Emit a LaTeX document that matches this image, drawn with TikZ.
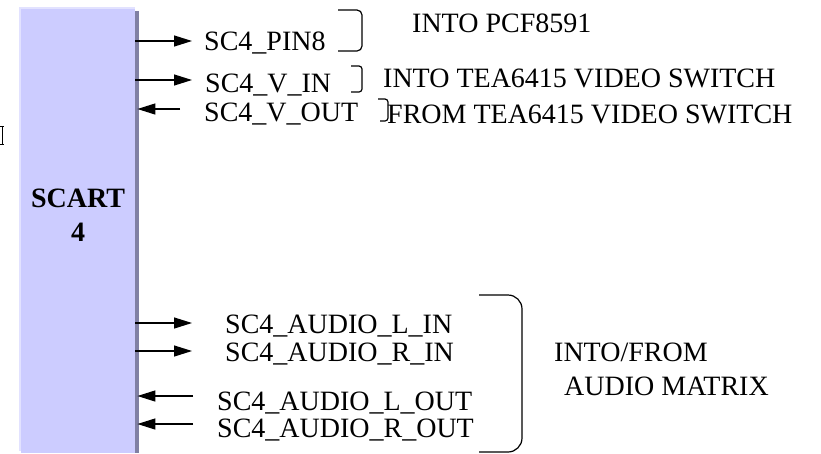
\documentclass[tikz,border=0pt]{standalone}
\usepackage{fontspec}
\setmainfont{Liberation Serif}
\usetikzlibrary{arrows.meta}
\definecolor{boxfill}{RGB}{204,204,255}
\definecolor{boxlight}{RGB}{226,226,255}
\definecolor{boxshade}{RGB}{128,128,164}
\tikzset{
  lbl/.style={font=\fontsize{28}{30}\selectfont, inner sep=0pt, anchor=base west},
  boldlbl/.style={font=\fontsize{28}{30}\selectfont\bfseries, inner sep=0pt, anchor=base},
  arr/.style={line width=1.3pt, arrows={-Triangle[length=18pt,width=11pt]}},
  brk/.style={line width=1.2pt, rounded corners=5pt},
  smallbrk/.style={line width=1.2pt, rounded corners=3pt},
  bigbrk/.style={line width=1.2pt, rounded corners=14pt}}
\begin{document}
\begin{tikzpicture}[x=1pt,y=-1pt]
\useasboundingbox (0,0) rectangle (821,453);
% box with light edge and shadow
\fill[boxlight] (19,7) rectangle (135,451);
\fill[boxshade] (135,11) rectangle (139,453);
\node[fill=boxfill, minimum width=114pt, minimum height=444pt, inner sep=0pt, anchor=north west] (scart) at (21,9) {};
\node[boldlbl] (scartA) at (78,207) {SCART};
\node[boldlbl] (scartB) at (78,241) {4};
% clipped fragment at left edge
\draw[line width=0.9pt] (2,126) -- (2,144) (0,126) -- (3.5,126) (0,144) -- (3.5,144);
% signal labels
\node[lbl] (pin8) at (204,50) {SC4\_PIN8};
\node[lbl] (vin) at (205,92) {SC4\_V\_IN};
\node[lbl] (vout) at (204,121) {SC4\_V\_OUT};
\node[lbl] (alin) at (225,333) {SC4\_AUDIO\_L\_IN};
\node[lbl] (arin) at (225,361) {SC4\_AUDIO\_R\_IN};
\node[lbl] (alout) at (217,410) {SC4\_AUDIO\_L\_OUT};
\node[lbl] (arout) at (217,437) {SC4\_AUDIO\_R\_OUT};
% destination labels
\node[lbl] (pcf) at (412,32) {INTO PCF8591};
\node[lbl] (teain) at (383,87) {INTO TEA6415 VIDEO SWITCH};
\node[lbl] (teaout) at (387,123) {FROM TEA6415 VIDEO SWITCH};
\node[lbl] (mat1) at (554,361) {INTO/FROM};
\node[lbl] (mat2) at (564,395) {AUDIO MATRIX};
% arrow end points
\coordinate (pin8tip) at (192,41);
\coordinate (vintip) at (192,80);
\coordinate (vouttail) at (180,109);
\coordinate (alintip) at (192,323);
\coordinate (arintip) at (192,351);
\coordinate (alouttail) at (193,396);
\coordinate (arouttail) at (193,424);
\draw[arr] (scart.east |- pin8tip) -- (pin8tip);
\draw[arr] (scart.east |- vintip) -- (vintip);
\draw[arr] (vouttail) -- ([xshift=2pt]scart.east |- vouttail);
\draw[arr] (scart.east |- alintip) -- (alintip);
\draw[arr] (scart.east |- arintip) -- (arintip);
\draw[arr] (alouttail) -- ([xshift=2pt]scart.east |- alouttail);
\draw[arr] (arouttail) -- ([xshift=2pt]scart.east |- arouttail);
% brackets
\draw[brk] (338,10) -- (362,10) -- (362,51) -- (338,51);
\draw[smallbrk] (351,66) -- (362,66) -- (362,92) -- (351,92);
\draw[smallbrk] (378,99) -- (388,99) -- (388,121) -- (380,121);
\draw[bigbrk] (479,295) -- (522,295) -- (522,452) -- (479,452);
\end{tikzpicture}
\end{document}
